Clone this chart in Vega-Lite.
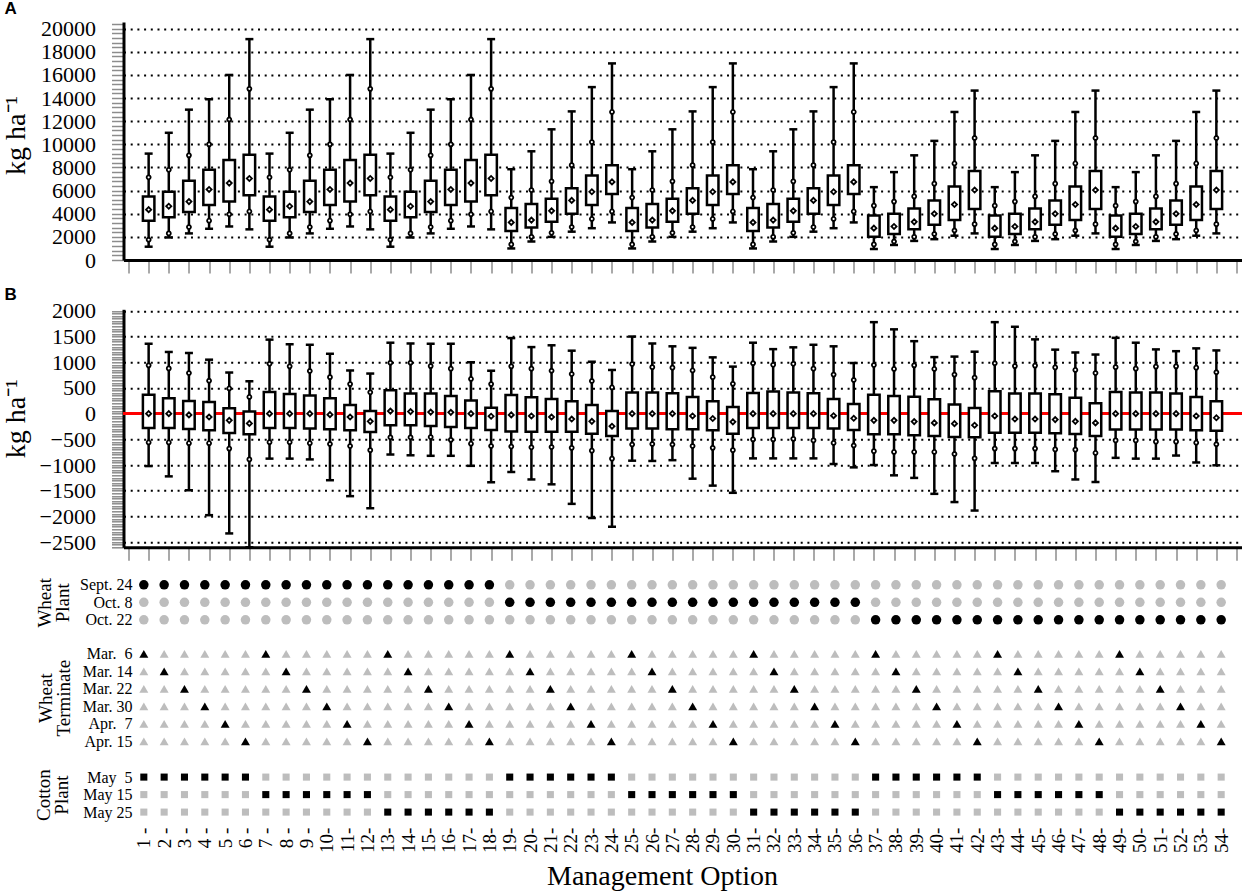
{
  "$schema": "https://vega.github.io/schema/vega-lite/v6.json",
  "autosize": {"type": "pad"},
  "padding": {"left": 1.5, "top": 0, "right": 0, "bottom": 0},
  "background": "white",
  "config": {"view": {"stroke": null}, "font": "Liberation Serif", "axis": {"labelFont": "Liberation Serif", "titleFont": "Liberation Serif", "labelColor": "black", "titleColor": "black"}},
  "datasets": {
    "opts": [
      {"o":1,"p":0,"t":0,"c":0,"a0":1150,"a1":1750,"a2":3400,"a3":4350,"a4":5500,"a5":7150,"a6":9200,"b0":-1020,"b1":-560,"b2":-280,"b3":0,"b4":370,"b5":940,"b6":1360,"r3":[0,1,2],"r6":[0,1,2,3,4,5]},
      {"o":2,"p":0,"t":1,"c":0,"a0":1950,"a1":2300,"a2":3700,"a3":4650,"a4":5900,"a5":7800,"a6":11000,"b0":-1220,"b1":-560,"b2":-280,"b3":0,"b4":300,"b5":880,"b6":1200,"r3":[0,1,2],"r6":[0,1,2,3,4,5]},
      {"o":3,"p":0,"t":2,"c":0,"a0":2300,"a1":2850,"a2":4150,"a3":5050,"a4":6850,"a5":9050,"a6":13000,"b0":-1490,"b1":-575,"b2":-300,"b3":-25,"b4":245,"b5":790,"b6":1180,"r3":[0,1,2],"r6":[0,1,2,3,4,5]},
      {"o":4,"p":0,"t":3,"c":0,"a0":2700,"a1":3400,"a2":4750,"a3":6100,"a4":7800,"a5":10000,"a6":13900,"b0":-1975,"b1":-575,"b2":-325,"b3":-65,"b4":225,"b5":640,"b6":1050,"r3":[0,1,2],"r6":[0,1,2,3,4,5]},
      {"o":5,"p":0,"t":4,"c":0,"a0":2900,"a1":3950,"a2":5050,"a3":6650,"a4":8650,"a5":12150,"a6":16000,"b0":-2330,"b1":-680,"b2":-375,"b3":-130,"b4":105,"b5":490,"b6":800,"r3":[0,1,2],"r6":[0,1,2,3,4,5]},
      {"o":6,"p":0,"t":5,"c":0,"a0":2650,"a1":4200,"a2":5600,"a3":7050,"a4":9100,"a5":14800,"a6":19100,"b0":-2600,"b1":-890,"b2":-400,"b3":-190,"b4":40,"b5":325,"b6":630,"r3":[0,1,2],"r6":[0,1,2,3,4,5]},
      {"o":7,"p":0,"t":0,"c":1,"a0":1150,"a1":1750,"a2":3400,"a3":4350,"a4":5500,"a5":7150,"a6":9200,"b0":-875,"b1":-555,"b2":-280,"b3":0,"b4":420,"b5":970,"b6":1440,"r3":[0,1,2],"r6":[0,1,2,3,4,5]},
      {"o":8,"p":0,"t":1,"c":1,"a0":1950,"a1":2300,"a2":3700,"a3":4650,"a4":5900,"a5":7800,"a6":11000,"b0":-875,"b1":-555,"b2":-280,"b3":0,"b4":380,"b5":920,"b6":1350,"r3":[0,1,2],"r6":[0,1,2,3,4,5]},
      {"o":9,"p":0,"t":2,"c":1,"a0":2300,"a1":2850,"a2":4150,"a3":5050,"a4":6850,"a5":9050,"a6":13000,"b0":-890,"b1":-575,"b2":-290,"b3":0,"b4":355,"b5":830,"b6":1340,"r3":[0,1,2],"r6":[0,1,2,3,4,5]},
      {"o":10,"p":0,"t":3,"c":1,"a0":2700,"a1":3400,"a2":4750,"a3":6100,"a4":7800,"a5":10000,"a6":13900,"b0":-1295,"b1":-590,"b2":-305,"b3":-20,"b4":300,"b5":710,"b6":1165,"r3":[0,1,2],"r6":[0,1,2,3,4,5]},
      {"o":11,"p":0,"t":4,"c":1,"a0":2900,"a1":3950,"a2":5050,"a3":6650,"a4":8650,"a5":12150,"a6":16000,"b0":-1605,"b1":-630,"b2":-325,"b3":-65,"b4":170,"b5":575,"b6":840,"r3":[0,1,2],"r6":[0,1,2,3,4,5]},
      {"o":12,"p":0,"t":5,"c":1,"a0":2650,"a1":4200,"a2":5600,"a3":7050,"a4":9100,"a5":14800,"a6":19100,"b0":-1840,"b1":-710,"b2":-355,"b3":-150,"b4":50,"b5":415,"b6":780,"r3":[0,1,2],"r6":[0,1,2,3,4,5]},
      {"o":13,"p":0,"t":0,"c":2,"a0":1150,"a1":1750,"a2":3400,"a3":4350,"a4":5500,"a5":7150,"a6":9200,"b0":-795,"b1":-460,"b2":-225,"b3":50,"b4":455,"b5":990,"b6":1380,"r3":[0,1,2],"r6":[0,1,2,3,4,5]},
      {"o":14,"p":0,"t":1,"c":2,"a0":1950,"a1":2300,"a2":3700,"a3":4650,"a4":5900,"a5":7800,"a6":11000,"b0":-810,"b1":-460,"b2":-225,"b3":40,"b4":390,"b5":990,"b6":1365,"r3":[0,1,2],"r6":[0,1,2,3,4,5]},
      {"o":15,"p":0,"t":2,"c":2,"a0":2300,"a1":2850,"a2":4150,"a3":5050,"a4":6850,"a5":9050,"a6":13000,"b0":-820,"b1":-455,"b2":-240,"b3":30,"b4":390,"b5":925,"b6":1360,"r3":[0,1,2],"r6":[0,1,2,3,4,5]},
      {"o":16,"p":0,"t":3,"c":2,"a0":2700,"a1":3400,"a2":4750,"a3":6100,"a4":7800,"a5":10000,"a6":13900,"b0":-820,"b1":-510,"b2":-260,"b3":25,"b4":345,"b5":875,"b6":1360,"r3":[0,1,2],"r6":[0,1,2,3,4,5]},
      {"o":17,"p":0,"t":4,"c":2,"a0":2900,"a1":3950,"a2":5050,"a3":6650,"a4":8650,"a5":12150,"a6":16000,"b0":-1015,"b1":-585,"b2":-280,"b3":0,"b4":255,"b5":675,"b6":1000,"r3":[0,1,2],"r6":[0,1,2,3,4,5]},
      {"o":18,"p":0,"t":5,"c":2,"a0":2650,"a1":4200,"a2":5600,"a3":7050,"a4":9100,"a5":14800,"a6":19100,"b0":-1335,"b1":-630,"b2":-320,"b3":-50,"b4":115,"b5":575,"b6":835,"r3":[0,1,2],"r6":[0,1,2,3,4,5]},
      {"o":19,"p":1,"t":0,"c":0,"a0":1000,"a1":1350,"a2":2500,"a3":3250,"a4":4500,"a5":5400,"a6":7850,"b0":-1135,"b1":-640,"b2":-345,"b3":-25,"b4":365,"b5":920,"b6":1470,"r3":[0,1,2],"r6":[0,1,2,3,4,5]},
      {"o":20,"p":1,"t":1,"c":0,"a0":1600,"a1":2000,"a2":2800,"a3":3450,"a4":4850,"a5":6050,"a6":9400,"b0":-1280,"b1":-655,"b2":-350,"b3":-45,"b4":320,"b5":875,"b6":1295,"r3":[0,1,2],"r6":[0,1,2,3,4,5]},
      {"o":21,"p":1,"t":2,"c":0,"a0":2000,"a1":2350,"a2":3300,"a3":4250,"a4":5300,"a5":6800,"a6":11300,"b0":-1375,"b1":-650,"b2":-350,"b3":-65,"b4":285,"b5":835,"b6":1330,"r3":[0,1,2],"r6":[0,1,2,3,4,5]},
      {"o":22,"p":1,"t":3,"c":0,"a0":2450,"a1":2850,"a2":4000,"a3":5150,"a4":6200,"a5":8200,"a6":12850,"b0":-1755,"b1":-665,"b2":-350,"b3":-105,"b4":240,"b5":770,"b6":1225,"r3":[0,1,2],"r6":[0,1,2,3,4,5]},
      {"o":23,"p":1,"t":4,"c":0,"a0":2750,"a1":3550,"a2":4750,"a3":5900,"a4":7300,"a5":10200,"a6":14950,"b0":-2030,"b1":-720,"b2":-390,"b3":-150,"b4":170,"b5":635,"b6":1010,"r3":[0,1,2],"r6":[0,1,2,3,4,5]},
      {"o":24,"p":1,"t":5,"c":0,"a0":3250,"a1":4200,"a2":5700,"a3":6750,"a4":8200,"a5":12800,"a6":17000,"b0":-2200,"b1":-875,"b2":-435,"b3":-245,"b4":50,"b5":510,"b6":850,"r3":[0,1,2],"r6":[0,1,2,3,4,5]},
      {"o":25,"p":1,"t":0,"c":1,"a0":1000,"a1":1350,"a2":2500,"a3":3250,"a4":4500,"a5":5400,"a6":7850,"b0":-915,"b1":-600,"b2":-290,"b3":0,"b4":410,"b5":965,"b6":1500,"r3":[0,1,2],"r6":[0,1,2,3,4,5]},
      {"o":26,"p":1,"t":1,"c":1,"a0":1600,"a1":2000,"a2":2800,"a3":3450,"a4":4850,"a5":6050,"a6":9400,"b0":-920,"b1":-590,"b2":-290,"b3":0,"b4":410,"b5":905,"b6":1365,"r3":[0,1,2],"r6":[0,1,2,3,4,5]},
      {"o":27,"p":1,"t":2,"c":1,"a0":2000,"a1":2350,"a2":3300,"a3":4250,"a4":5300,"a5":6800,"a6":11300,"b0":-905,"b1":-600,"b2":-305,"b3":0,"b4":395,"b5":895,"b6":1310,"r3":[0,1,2],"r6":[0,1,2,3,4,5]},
      {"o":28,"p":1,"t":3,"c":1,"a0":2450,"a1":2850,"a2":4000,"a3":5150,"a4":6200,"a5":8200,"a6":12850,"b0":-1265,"b1":-630,"b2":-305,"b3":-45,"b4":325,"b5":840,"b6":1280,"r3":[0,1,2],"r6":[0,1,2,3,4,5]},
      {"o":29,"p":1,"t":4,"c":1,"a0":2750,"a1":3550,"a2":4750,"a3":5900,"a4":7300,"a5":10200,"a6":14950,"b0":-1400,"b1":-665,"b2":-325,"b3":-95,"b4":240,"b5":710,"b6":1095,"r3":[0,1,2],"r6":[0,1,2,3,4,5]},
      {"o":30,"p":1,"t":5,"c":1,"a0":3250,"a1":4200,"a2":5700,"a3":6750,"a4":8200,"a5":12800,"a6":17000,"b0":-1540,"b1":-710,"b2":-390,"b3":-160,"b4":130,"b5":580,"b6":915,"r3":[0,1,2],"r6":[0,1,2,3,4,5]},
      {"o":31,"p":1,"t":0,"c":2,"a0":1000,"a1":1350,"a2":2500,"a3":3250,"a4":4500,"a5":5400,"a6":7850,"b0":-870,"b1":-500,"b2":-280,"b3":0,"b4":400,"b5":980,"b6":1380,"r3":[0,1,2],"r6":[0,1,2,3,4,5]},
      {"o":32,"p":1,"t":1,"c":2,"a0":1600,"a1":2000,"a2":2800,"a3":3450,"a4":4850,"a5":6050,"a6":9400,"b0":-870,"b1":-500,"b2":-280,"b3":0,"b4":430,"b5":950,"b6":1255,"r3":[0,1,2],"r6":[0,1,2,3,4,5]},
      {"o":33,"p":1,"t":2,"c":2,"a0":2000,"a1":2350,"a2":3300,"a3":4250,"a4":5300,"a5":6800,"a6":11300,"b0":-870,"b1":-490,"b2":-280,"b3":0,"b4":410,"b5":970,"b6":1290,"r3":[0,1,2],"r6":[0,1,2,3,4,5]},
      {"o":34,"p":1,"t":3,"c":2,"a0":2450,"a1":2850,"a2":4000,"a3":5150,"a4":6200,"a5":8200,"a6":12850,"b0":-870,"b1":-520,"b2":-280,"b3":0,"b4":395,"b5":875,"b6":1340,"r3":[0,1,2],"r6":[0,1,2,3,4,5]},
      {"o":35,"p":1,"t":4,"c":2,"a0":2750,"a1":3550,"a2":4750,"a3":5900,"a4":7300,"a5":10200,"a6":14950,"b0":-980,"b1":-570,"b2":-290,"b3":-40,"b4":285,"b5":760,"b6":1310,"r3":[0,1,2],"r6":[0,1,2,3,4,5]},
      {"o":36,"p":1,"t":5,"c":2,"a0":3250,"a1":4200,"a2":5700,"a3":6750,"a4":8200,"a5":12800,"a6":17000,"b0":-1045,"b1":-620,"b2":-320,"b3":-90,"b4":190,"b5":655,"b6":985,"r3":[0,1,2],"r6":[0,1,2,3,4,5]},
      {"o":37,"p":2,"t":0,"c":0,"a0":950,"a1":1350,"a2":2000,"a3":2750,"a4":3850,"a5":4700,"a6":6300,"b0":-1000,"b1":-730,"b2":-400,"b3":-130,"b4":370,"b5":945,"b6":1780,"r3":[0,1,2],"r6":[0,1,2,3,4,5]},
      {"o":38,"p":2,"t":1,"c":0,"a0":1300,"a1":1600,"a2":2250,"a3":2900,"a4":4000,"a5":5050,"a6":7600,"b0":-1200,"b1":-745,"b2":-400,"b3":-130,"b4":345,"b5":870,"b6":1640,"r3":[0,1,2],"r6":[0,1,2,3,4,5]},
      {"o":39,"p":2,"t":2,"c":0,"a0":1650,"a1":2000,"a2":2650,"a3":3300,"a4":4450,"a5":5500,"a6":9050,"b0":-1250,"b1":-745,"b2":-420,"b3":-155,"b4":330,"b5":940,"b6":1410,"r3":[0,1,2],"r6":[0,1,2,3,4,5]},
      {"o":40,"p":2,"t":3,"c":0,"a0":1800,"a1":2250,"a2":3050,"a3":4000,"a4":5150,"a5":6600,"a6":10300,"b0":-1560,"b1":-745,"b2":-435,"b3":-180,"b4":280,"b5":870,"b6":1100,"r3":[0,1,2],"r6":[0,1,2,3,4,5]},
      {"o":41,"p":2,"t":4,"c":0,"a0":2100,"a1":2550,"a2":3450,"a3":4800,"a4":6350,"a5":8350,"a6":12800,"b0":-1720,"b1":-785,"b2":-455,"b3":-195,"b4":180,"b5":760,"b6":1110,"r3":[0,1,2],"r6":[0,1,2,3,4,5]},
      {"o":42,"p":2,"t":5,"c":0,"a0":2300,"a1":3100,"a2":4400,"a3":6050,"a4":7700,"a5":10550,"a6":14650,"b0":-1885,"b1":-870,"b2":-460,"b3":-225,"b4":110,"b5":700,"b6":1205,"r3":[0,1,2],"r6":[0,1,2,3,4,5]},
      {"o":43,"p":2,"t":0,"c":1,"a0":950,"a1":1350,"a2":2000,"a3":2750,"a4":3850,"a5":4700,"a6":6300,"b0":-960,"b1":-680,"b2":-370,"b3":-45,"b4":435,"b5":980,"b6":1780,"r3":[0,1,2],"r6":[0,1,2,3,4,5]},
      {"o":44,"p":2,"t":1,"c":1,"a0":1300,"a1":1600,"a2":2250,"a3":2900,"a4":4000,"a5":5050,"a6":7600,"b0":-960,"b1":-680,"b2":-370,"b3":-105,"b4":390,"b5":925,"b6":1690,"r3":[0,1,2],"r6":[0,1,2,3,4,5]},
      {"o":45,"p":2,"t":2,"c":1,"a0":1650,"a1":2000,"a2":2650,"a3":3300,"a4":4450,"a5":5500,"a6":9050,"b0":-960,"b1":-680,"b2":-370,"b3":-105,"b4":390,"b5":935,"b6":1445,"r3":[0,1,2],"r6":[0,1,2,3,4,5]},
      {"o":46,"p":2,"t":3,"c":1,"a0":1800,"a1":2250,"a2":3050,"a3":4000,"a4":5150,"a5":6600,"a6":10300,"b0":-1120,"b1":-695,"b2":-380,"b3":-115,"b4":375,"b5":900,"b6":1245,"r3":[0,1,2],"r6":[0,1,2,3,4,5]},
      {"o":47,"p":2,"t":4,"c":1,"a0":2100,"a1":2550,"a2":3450,"a3":4800,"a4":6350,"a5":8350,"a6":12800,"b0":-1280,"b1":-700,"b2":-395,"b3":-150,"b4":310,"b5":850,"b6":1190,"r3":[0,1,2],"r6":[0,1,2,3,4,5]},
      {"o":48,"p":2,"t":5,"c":1,"a0":2300,"a1":3100,"a2":4400,"a3":6050,"a4":7700,"a5":10550,"a6":14650,"b0":-1330,"b1":-765,"b2":-435,"b3":-180,"b4":200,"b5":790,"b6":1150,"r3":[0,1,2],"r6":[0,1,2,3,4,5]},
      {"o":49,"p":2,"t":0,"c":2,"a0":950,"a1":1350,"a2":2000,"a3":2750,"a4":3850,"a5":4700,"a6":6300,"b0":-860,"b1":-520,"b2":-310,"b3":0,"b4":420,"b5":905,"b6":1475,"r3":[0,1,2],"r6":[0,1,2,3,4,5]},
      {"o":50,"p":2,"t":1,"c":2,"a0":1300,"a1":1600,"a2":2250,"a3":2900,"a4":4000,"a5":5050,"a6":7600,"b0":-875,"b1":-520,"b2":-310,"b3":0,"b4":410,"b5":875,"b6":1380,"r3":[0,1,2],"r6":[0,1,2,3,4,5]},
      {"o":51,"p":2,"t":2,"c":2,"a0":1650,"a1":2000,"a2":2650,"a3":3300,"a4":4450,"a5":5500,"a6":9050,"b0":-875,"b1":-545,"b2":-310,"b3":0,"b4":410,"b5":915,"b6":1250,"r3":[0,1,2],"r6":[0,1,2,3,4,5]},
      {"o":52,"p":2,"t":3,"c":2,"a0":1800,"a1":2250,"a2":3050,"a3":4000,"a4":5150,"a5":6600,"a6":10300,"b0":-815,"b1":-545,"b2":-310,"b3":0,"b4":390,"b5":920,"b6":1215,"r3":[0,1,2],"r6":[0,1,2,3,4,5]},
      {"o":53,"p":2,"t":4,"c":2,"a0":2100,"a1":2550,"a2":3450,"a3":4800,"a4":6350,"a5":8350,"a6":12800,"b0":-950,"b1":-565,"b2":-325,"b3":-45,"b4":325,"b5":895,"b6":1270,"r3":[0,1,2],"r6":[0,1,2,3,4,5]},
      {"o":54,"p":2,"t":5,"c":2,"a0":2300,"a1":3100,"a2":4400,"a3":6050,"a4":7700,"a5":10550,"a6":14650,"b0":-1005,"b1":-595,"b2":-335,"b3":-80,"b4":240,"b5":805,"b6":1230,"r3":[0,1,2],"r6":[0,1,2,3,4,5]}
    ]
  },
  "vconcat": [
    {
      "width": 1118,
      "height": 238,
      "title": {"text": "A", "anchor": "start", "frame": "group", "font": "Liberation Sans", "fontSize": 17, "fontWeight": "bold", "color": "black", "offset": 0, "dx": -119, "dy": 18, "baseline": "alphabetic"},
      "data": {"name": "opts"},
      "layer": [
        {
          "mark": {"type": "rule", "strokeWidth": 2.5, "color": "black"},
          "encoding": {
            "x": {"field": "o", "type": "quantitative", "scale": {"domain": [0, 55], "nice": false, "zero": false},
              "axis": {"tickCount": 55, "labels": false, "title": null, "grid": false, "domainColor": "black", "domainWidth": 3, "tickColor": "#8c8c8c", "tickSize": 13, "tickWidth": 1.5}},
            "y": {"field": "a0", "type": "quantitative", "scale": {"domain": [0, 20580], "nice": false, "zero": false},
              "axis": {"title": "kg ha\u207b\u00b9", "titleFont": "Liberation Serif", "titleFontSize": 28, "titleFontWeight": "normal", "titleColor": "black", "titleX": -93, "titleY": 113,
                "values": [0,400,800,1200,1600,2000,2400,2800,3200,3600,4000,4400,4800,5200,5600,6000,6400,6800,7200,7600,8000,8400,8800,9200,9600,10000,10400,10800,11200,11600,12000,12400,12800,13200,13600,14000,14400,14800,15200,15600,16000,16400,16800,17200,17600,18000,18400,18800,19200,19600,20000,20400],
                "tickCount": 60,
                "format": "d", "labelExpr": "datum.value % 2000 === 0 ? datum.label : ''",
                "labelFont": "Liberation Serif", "labelFontSize": 22, "labelColor": "black", "labelPadding": 16, "labelOverlap": false,
                "tickColor": "#8c8c8c", "tickSize": 12, "tickWidth": 1.5,
                "domainColor": "black", "domainWidth": 3,
                "grid": true, "gridColor": "black", "gridDash": [2, 4.7], "gridWidth": 2,
                "gridOpacity": {"condition": {"test": "datum.value % 2000 === 0 && datum.value > 0", "value": 1}, "value": 0}}},
            "y2": {"field": "a6"}
          }
        },
        {
          "mark": {"type": "bar", "width": 11.5, "fill": "white", "stroke": "black", "strokeWidth": 2.5},
          "encoding": {
            "x": {"field": "o", "type": "quantitative"},
            "y": {"field": "a2", "type": "quantitative"},
            "y2": {"field": "a4"}
          }
        },
        {
          "mark": {"type": "tick", "orient": "horizontal", "size": 8, "thickness": 2.5, "color": "black", "opacity": 1},
          "encoding": {
            "x": {"field": "o", "type": "quantitative"},
            "y": {"field": "a0", "type": "quantitative"}
          }
        },
        {
          "mark": {"type": "tick", "orient": "horizontal", "size": 8, "thickness": 2.5, "color": "black", "opacity": 1},
          "encoding": {
            "x": {"field": "o", "type": "quantitative"},
            "y": {"field": "a6", "type": "quantitative"}
          }
        },
        {
          "mark": {"type": "point", "shape": "circle", "size": 16, "filled": true, "fill": "white", "stroke": "black", "strokeWidth": 1.8, "opacity": 1},
          "encoding": {
            "x": {"field": "o", "type": "quantitative"},
            "y": {"field": "a1", "type": "quantitative"}
          }
        },
        {
          "mark": {"type": "point", "shape": "circle", "size": 16, "filled": true, "fill": "white", "stroke": "black", "strokeWidth": 1.8, "opacity": 1},
          "encoding": {
            "x": {"field": "o", "type": "quantitative"},
            "y": {"field": "a5", "type": "quantitative"}
          }
        },
        {
          "mark": {"type": "point", "shape": "diamond", "size": 26, "filled": true, "fill": "white", "stroke": "black", "strokeWidth": 1.8, "opacity": 1},
          "encoding": {
            "x": {"field": "o", "type": "quantitative"},
            "y": {"field": "a3", "type": "quantitative"}
          }
        }
      ]
    },
    {
      "spacing": 30.8,
      "bounds": "flush",
      "vconcat": [
        {
          "width": 1118,
          "height": 238,
          "title": {"text": "B", "anchor": "start", "frame": "group", "font": "Liberation Sans", "fontSize": 17, "fontWeight": "bold", "color": "black", "offset": 0, "dx": -119, "dy": 17, "baseline": "alphabetic"},
          "data": {"name": "opts"},
          "layer": [
            {
              "mark": {"type": "rule", "strokeWidth": 2.5, "color": "black"},
              "encoding": {
                "x": {"field": "o", "type": "quantitative", "scale": {"domain": [0, 55], "nice": false, "zero": false},
                  "axis": {"tickCount": 55, "labels": false, "title": null, "grid": false, "domainColor": "black", "domainWidth": 3, "tickColor": "#8c8c8c", "tickSize": 13, "tickWidth": 1.5}},
                "y": {"field": "b0", "type": "quantitative", "scale": {"domain": [-2600, 2030], "nice": false, "zero": false},
                  "axis": {"title": "kg ha\u207b\u00b9", "titleFont": "Liberation Serif", "titleFontSize": 28, "titleFontWeight": "normal", "titleColor": "black", "titleX": -93, "titleY": 109,
                    "tickCount": 92, "format": "d", "labelExpr": "datum.value % 500 === 0 ? datum.label : ''",
                    "labelFont": "Liberation Serif", "labelFontSize": 22, "labelColor": "black", "labelPadding": 16, "labelOverlap": false,
                    "tickColor": "#8c8c8c", "tickSize": 12, "tickWidth": 1.5,
                    "domainColor": "black", "domainWidth": 3,
                    "grid": true, "gridColor": "black", "gridDash": [2, 4.7], "gridWidth": 2,
                    "gridOpacity": {"condition": {"test": "datum.value % 500 === 0", "value": 1}, "value": 0}}},
                "y2": {"field": "b6"}
              }
            },
            {
              "mark": {"type": "rule", "strokeWidth": 2, "color": "red"},
              "encoding": {
                "y": {"datum": 0, "type": "quantitative"}
              }
            },
            {
              "mark": {"type": "bar", "width": 11.5, "fill": "white", "stroke": "black", "strokeWidth": 2.5},
              "encoding": {
                "x": {"field": "o", "type": "quantitative"},
                "y": {"field": "b2", "type": "quantitative"},
                "y2": {"field": "b4"}
              }
            },
            {
              "mark": {"type": "tick", "orient": "horizontal", "size": 8, "thickness": 2.5, "color": "black", "opacity": 1},
              "encoding": {
                "x": {"field": "o", "type": "quantitative"},
                "y": {"field": "b0", "type": "quantitative"}
              }
            },
            {
              "mark": {"type": "tick", "orient": "horizontal", "size": 8, "thickness": 2.5, "color": "black", "opacity": 1},
              "encoding": {
                "x": {"field": "o", "type": "quantitative"},
                "y": {"field": "b6", "type": "quantitative"}
              }
            },
            {
              "mark": {"type": "point", "shape": "circle", "size": 16, "filled": true, "fill": "white", "stroke": "black", "strokeWidth": 1.8, "opacity": 1},
              "encoding": {
                "x": {"field": "o", "type": "quantitative"},
                "y": {"field": "b1", "type": "quantitative"}
              }
            },
            {
              "mark": {"type": "point", "shape": "circle", "size": 16, "filled": true, "fill": "white", "stroke": "black", "strokeWidth": 1.8, "opacity": 1},
              "encoding": {
                "x": {"field": "o", "type": "quantitative"},
                "y": {"field": "b5", "type": "quantitative"}
              }
            },
            {
              "mark": {"type": "point", "shape": "diamond", "size": 26, "filled": true, "fill": "white", "stroke": "black", "strokeWidth": 1.8, "opacity": 1},
              "encoding": {
                "x": {"field": "o", "type": "quantitative"},
                "y": {"field": "b3", "type": "quantitative"}
              }
            }
          ]
        },
        {
          "spacing": 18,
          "bounds": "flush",
          "vconcat": [
            {
              "width": 1118,
              "height": 48.4,
              "data": {"name": "opts"},
              "transform": [{"flatten": ["r3"]}],
              "mark": {"type": "point", "shape": "circle", "filled": true, "size": 90, "opacity": 1, "strokeWidth": 0},
              "encoding": {
                "x": {"field": "o", "type": "quantitative", "scale": {"domain": [0, 55], "nice": false, "zero": false}, "axis": null},
                "y": {"field": "r3", "type": "quantitative", "scale": {"domain": [-0.383, 2.383], "reverse": true, "nice": false, "zero": false},
                  "axis": {"values": [0, 1, 2], "labelExpr": "['Sept. 24', 'Oct. 8', 'Oct. 22'][datum.value]", "labelFont": "Liberation Serif", "labelFontSize": 16, "labelColor": "black", "labelPadding": -8.5, "ticks": false, "tickSize": 0, "domain": false, "grid": false, "labelOverlap": false,
                    "title": ["Wheat", "Plant"], "titleFont": "Liberation Serif", "titleFontSize": 19, "titleFontWeight": "normal", "titleColor": "black", "titleLineHeight": 18, "titleX": -69.5}},
                "color": {"condition": {"test": "datum.r3 === datum.p", "value": "black"}, "value": "#bdbdbd"}
              }
            },
            {
              "width": 1118,
              "height": 105,
              "data": {"name": "opts"},
              "transform": [{"flatten": ["r6"]}],
              "mark": {"type": "point", "shape": "triangle-up", "filled": true, "size": 80, "opacity": 1, "strokeWidth": 0},
              "encoding": {
                "x": {"field": "o", "type": "quantitative", "scale": {"domain": [0, 55], "nice": false, "zero": false}, "axis": null},
                "y": {"field": "r6", "type": "quantitative", "scale": {"domain": [-0.5, 5.5], "reverse": true, "nice": false, "zero": false},
                  "axis": {"values": [0, 1, 2, 3, 4, 5], "labelExpr": "['Mar.\u00a0\u00a06', 'Mar. 14', 'Mar. 22', 'Mar. 30', 'Apr.\u00a0\u00a07', 'Apr. 15'][datum.value]", "labelFont": "Liberation Serif", "labelFontSize": 16, "labelColor": "black", "labelPadding": -8.5, "ticks": false, "tickSize": 0, "domain": false, "grid": false, "labelOverlap": false,
                    "title": ["Wheat", "Terminate"], "titleFont": "Liberation Serif", "titleFontSize": 19, "titleFontWeight": "normal", "titleColor": "black", "titleLineHeight": 18, "titleX": -68}},
                "color": {"condition": {"test": "datum.r6 === datum.t", "value": "black"}, "value": "#bdbdbd"}
              }
            },
            {
              "width": 1118,
              "height": 53,
              "data": {"name": "opts"},
              "transform": [{"flatten": ["r3"]}],
              "mark": {"type": "point", "shape": "square", "filled": true, "size": 50, "opacity": 1, "strokeWidth": 0},
              "encoding": {
                "x": {"field": "o", "type": "quantitative", "scale": {"domain": [0, 55], "nice": false, "zero": false},
                  "axis": {"tickCount": 55, "labelExpr": "datum.value >= 1 && datum.value <= 54 ? (datum.value < 10 ? datum.value + ' -' : datum.value + '-') : ''", "labelAngle": -90, "labelFont": "Liberation Serif", "labelFontSize": 19, "labelColor": "black", "labelPadding": 6, "ticks": false, "tickSize": 0, "domain": false, "grid": false, "labelOverlap": false, "labelFlush": false, "labelBound": false,
                    "title": "Management Option", "titleFont": "Liberation Serif", "titleFontSize": 28, "titleFontWeight": "normal", "titleColor": "black", "titlePadding": 10, "titleX": 538.5}},
                "y": {"field": "r3", "type": "quantitative", "scale": {"domain": [-0.514, 2.514], "reverse": true, "nice": false, "zero": false},
                  "axis": {"values": [0, 1, 2], "labelExpr": "['May\u00a0\u00a05', 'May 15', 'May 25'][datum.value]", "labelFont": "Liberation Serif", "labelFontSize": 16, "labelColor": "black", "labelPadding": -8.5, "ticks": false, "tickSize": 0, "domain": false, "grid": false, "labelOverlap": false,
                    "title": ["Cotton", "Plant"], "titleFont": "Liberation Serif", "titleFontSize": 19, "titleFontWeight": "normal", "titleColor": "black", "titleLineHeight": 18, "titleX": -70}},
                "color": {"condition": {"test": "datum.r3 === datum.c", "value": "black"}, "value": "#bdbdbd"}
              }
            }
          ]
        }
      ]
    }
  ],
  "spacing": 49.3,
  "bounds": "flush"
}
